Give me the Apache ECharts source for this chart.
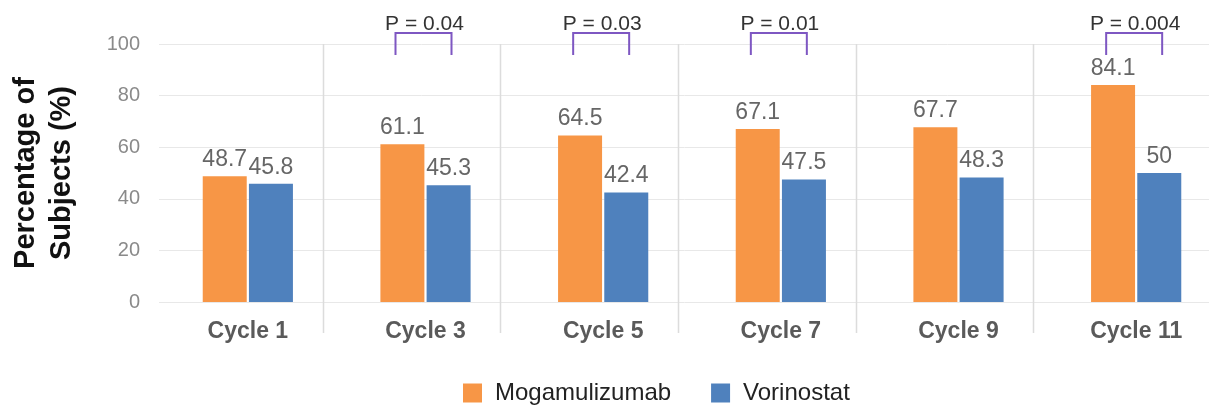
<!DOCTYPE html>
<html>
<head>
<meta charset="utf-8">
<script src="https://cdn.jsdelivr.net/npm/echarts@6/dist/echarts.min.js"></script>
<style>html,body{margin:0;padding:0;background:#fff}#chart{width:1209px;height:407px}</style>
</head>
<body>
<div id="chart"></div>
<script>
var categories = ['Cycle 1', 'Cycle 3', 'Cycle 5', 'Cycle 7', 'Cycle 9', 'Cycle 11'];
var mogamulizumab = [48.7, 61.1, 64.5, 67.1, 67.7, 84.1];
var vorinostat = [45.8, 45.3, 42.4, 47.5, 48.3, 50];
var pValues = [null, 'P = 0.04', 'P = 0.03', 'P = 0.01', null, 'P = 0.004'];
var yTicks = [0, 20, 40, 60, 80, 100];

var bracketData = [];
pValues.forEach(function (p, i) { if (p) bracketData.push([i, 100, p]); });
var separatorData = [];
for (var i = 1; i < categories.length; i++) separatorData.push([i, 100]);

var chart = echarts.init(document.getElementById('chart'), null, {renderer: 'canvas'});
chart.setOption({
  animation: false,
  backgroundColor: '#ffffff',
  textStyle: {fontFamily: 'Liberation Sans, Arial, sans-serif'},
  grid: {left: 159, top: 44, width: 1066, height: 258, containLabel: false, outerBoundsMode: 'none'},
  legend: {
    left: 463, top: 381, padding: 0, itemWidth: 19, itemHeight: 19, itemGap: 40,
    icon: 'rect',
    data: ['Mogamulizumab', 'Vorinostat'],
    textStyle: {fontSize: 24, color: '#222', padding: [0, 0, 0, 8]}
  },
  xAxis: {
    type: 'category', data: categories,
    axisLine: {show: false}, axisTick: {show: false}, splitLine: {show: false},
    axisLabel: {fontSize: 23, fontWeight: 'bold', color: '#5a5a5a', margin: 18}
  },
  yAxis: {
    type: 'value', min: 0, max: 100, interval: 20,
    name: 'Percentage of\nSubjects (%)', nameLocation: 'middle', nameGap: 79,
    nameTextStyle: {fontSize: 29, fontWeight: 'bold', color: '#111', lineHeight: 36},
    axisLine: {show: false}, axisTick: {show: false},
    axisLabel: {fontSize: 20, color: '#8a8a8a', margin: 19,
      formatter: function (v) { return yTicks.indexOf(v) >= 0 ? String(v) : ''; }},
    splitLine: {lineStyle: {color: '#e8e8e8', width: 1}}
  },
  series: [
    {
      name: 'Mogamulizumab', type: 'bar', data: mogamulizumab, barWidth: 44, barGap: '5%',
      itemStyle: {color: '#F79646'},
      label: {show: true, position: 'top', fontSize: 23, color: '#666', distance: 5}
    },
    {
      name: 'Vorinostat', type: 'bar', data: vorinostat, barWidth: 44, barGap: '5%',
      itemStyle: {color: '#4F81BD'},
      label: {show: true, position: 'top', fontSize: 23, color: '#666', distance: 5}
    },
    {
      name: 'separators', type: 'custom', data: separatorData, silent: true, z: 0,
      renderItem: function (params, api) {
        var top = api.coord([api.value(0), api.value(1)]);
        var base = api.coord([api.value(0), 0]);
        var band = api.size([1, 0])[0];
        var x = Math.round(top[0] - band / 2 - 14) + 0.5;
        return {type: 'line', shape: {x1: x, y1: top[1], x2: x, y2: base[1] + 31},
          style: {stroke: '#dcdcdc', lineWidth: 1.5}};
      }
    },
    {
      name: 'brackets', type: 'custom', data: bracketData, silent: true, clip: false,
      renderItem: function (params, api) {
        var c = api.coord([api.value(0), api.value(1)]);
        var cx = c[0] - 2;
        var topY = c[1] - 11;
        var legY = c[1] + 11;
        return {type: 'group', children: [
          {type: 'polyline', shape: {points: [[cx - 28, legY], [cx - 28, topY], [cx + 28, topY], [cx + 28, legY]]},
            style: {stroke: '#7E57C2', lineWidth: 2, fill: null}},
          {type: 'text', x: cx + 1, y: topY + 2,
            style: {text: pValues[api.value(0)], fontSize: 21, fill: '#333',
              fontFamily: 'Liberation Sans, Arial, sans-serif', align: 'center', verticalAlign: 'bottom'}}
        ]};
      }
    }
  ]
});
</script>
</body>
</html>
